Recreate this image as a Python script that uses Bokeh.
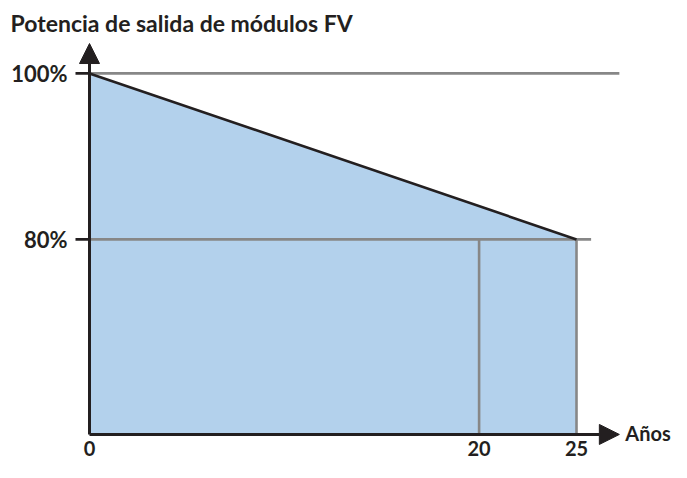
from bokeh.plotting import figure
from bokeh.models import Arrow, NormalHead, Label, Range1d
from bokeh.embed import file_html
from bokeh.resources import INLINE

# ---- Data ----
years = [0, 25]
power_pct = [100, 80]
x_ticks = [0, 20, 25]
x_tick_labels = ["0", "20", "25"]
y_ticks = [80, 100]
y_tick_labels = ["80%", "100%"]
marker_years = [20, 25]
ref_levels = [100, 80]

title_text = "Potencia de salida de módulos FV"
x_label = "Años"

# ---- Schematic axis extents ----
x_axis_y = 56.5      # level where the horizontal axis sits
x_axis_end = 27.2    # tip of horizontal arrow (years)
y_axis_end = 103.6   # tip of vertical arrow (%)
ref80_end = 25.75    # right end of the 80 % reference line

# ---- Layout (pixels) ----
W, H = 671, 462
PX0_X = 89.0         # canvas x of year 0
PX_PER_YEAR = 19.48
PX100_Y = 72.9       # canvas y (from top) of 100 %
PX_PER_PCT = 8.30

FONT = "Lato"
BLACK = "#231f20"
GRAY = "#878787"
FILL = "#b3d1ec"

x_range = Range1d(-PX0_X / PX_PER_YEAR, (W - PX0_X) / PX_PER_YEAR)
y_range = Range1d(100 - (H - PX100_Y) / PX_PER_PCT, 100 + PX100_Y / PX_PER_PCT)

p = figure(width=W, height=H, x_range=x_range, y_range=y_range,
           output_backend="svg", toolbar_location=None,
           min_border_left=0, min_border_right=0,
           min_border_top=0, min_border_bottom=0)
p.outline_line_color = None
p.grid.visible = False
p.axis.visible = False
p.background_fill_color = "white"

# Filled area under degradation line
p.varea(x=years, y1=[x_axis_y] * len(years), y2=power_pct, fill_color=FILL)

# Reference horizontal lines
h_ends = [x_axis_end, ref80_end]
p.segment(x0=[0] * len(ref_levels), y0=ref_levels, x1=h_ends, y1=ref_levels,
          line_color=GRAY, line_width=2.6)
# Vertical markers
p.segment(x0=marker_years, y0=[x_axis_y] * len(marker_years), x1=marker_years,
          y1=[power_pct[-1]] * len(marker_years), line_color=GRAY, line_width=2.6)

# Degradation line
p.line(years, power_pct, line_color=BLACK, line_width=2.6)

# Y tick marks (extend 14 px left of axis)
tick_len = 14 / PX_PER_YEAR
p.segment(x0=[-tick_len] * len(y_ticks), y0=y_ticks, x1=[0] * len(y_ticks), y1=y_ticks,
          line_color=BLACK, line_width=2.6)

# Axis arrows
p.add_layout(Arrow(end=NormalHead(size=20, fill_color=BLACK, line_color=BLACK),
                   x_start=0, y_start=x_axis_y, x_end=0, y_end=y_axis_end,
                   line_color=BLACK, line_width=3))
p.add_layout(Arrow(end=NormalHead(size=20, fill_color=BLACK, line_color=BLACK),
                   x_start=0, y_start=x_axis_y, x_end=x_axis_end, y_end=x_axis_y,
                   line_color=BLACK, line_width=3))

# Title
p.add_layout(Label(x=0, y=100, x_offset=-79, y_offset=50, text=title_text,
                   text_font=FONT, text_font_style="bold", text_font_size="23px",
                   text_color=BLACK, text_baseline="middle", text_align="left"))

# X axis label
p.add_layout(Label(x=x_axis_end, y=x_axis_y, x_offset=6, y_offset=1, text=x_label,
                   text_font=FONT, text_font_style="bold", text_font_size="20px",
                   text_color=BLACK, text_baseline="middle", text_align="left"))

# X tick labels
for xt, lab in zip(x_ticks, x_tick_labels):
    p.add_layout(Label(x=xt, y=x_axis_y, y_offset=-14, text=lab,
                       text_font=FONT, text_font_style="bold", text_font_size="20px",
                       text_color=BLACK, text_baseline="middle", text_align="center"))

# Y tick labels
for yt, lab in zip(y_ticks, y_tick_labels):
    p.add_layout(Label(x=0, y=yt, x_offset=-22, y_offset=0, text=lab,
                       text_font=FONT, text_font_style="bold", text_font_size="22px",
                       text_color=BLACK, text_baseline="middle", text_align="right"))

open("out.html", "w").write(file_html(p, INLINE))
